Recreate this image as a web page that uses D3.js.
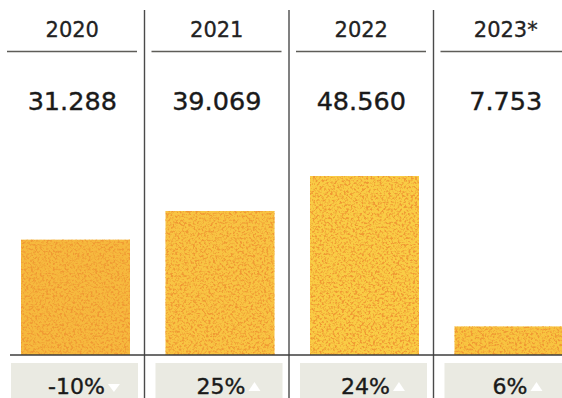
<!DOCTYPE html>
<html><head><meta charset="utf-8">
<script src="https://cdn.jsdelivr.net/npm/d3@7"></script>
<style>html,body{margin:0;padding:0;background:#fff;overflow:hidden}svg{display:block}</style>
</head><body>
<script>
const years = ["2020", "2021", "2022", "2023*"];
const values = [31288, 39069, 48560, 7753];
const valueLabels = ["31.288", "39.069", "48.560", "7.753"];
const changes = ["-10%", "25%", "24%", "6%"];
const directions = ["down", "up", "up", "up"];
const barColors = ["#f6b93e", "#f8c443", "#f9cc45", "#f8c440"];

const W = 562, H = 398;
const svg = d3.select("body").append("svg").attr("width", W).attr("height", H);
const font = "'DejaVu Sans', sans-serif";

const defs = svg.append("defs");
const f = defs.append("filter").attr("id", "grain").attr("x", 0).attr("y", 0).attr("width", 1).attr("height", 1)
  .attr("color-interpolation-filters", "sRGB");
f.append("feTurbulence").attr("type", "fractalNoise").attr("baseFrequency", 0.45).attr("numOctaves", 4).attr("seed", 7).attr("result", "n");
f.append("feColorMatrix").attr("in", "n").attr("type", "matrix")
  .attr("values", "0 0 0 0 0.94  0 0 0 0 0.60  0 0 0 0 0.20  4 0 0 0 -1.85").attr("result", "c");
f.append("feComposite").attr("in", "c").attr("in2", "SourceGraphic").attr("operator", "in").attr("result", "m");
f.append("feMerge").selectAll("feMergeNode").data(["SourceGraphic", "m"]).join("feMergeNode").attr("in", d => d);

const g2 = defs.append("filter").attr("id", "grain2").attr("x", 0).attr("y", 0).attr("width", 1).attr("height", 1)
  .attr("color-interpolation-filters", "sRGB");
g2.append("feTurbulence").attr("type", "fractalNoise").attr("baseFrequency", 1.0).attr("numOctaves", 2).attr("seed", 2).attr("result", "n");
g2.append("feColorMatrix").attr("in", "n").attr("type", "matrix")
  .attr("values", "0 0 0 0 0.86  0 0 0 0 0.85  0 0 0 0 0.79  4 0 0 0 -1.9").attr("result", "c");
g2.append("feComposite").attr("in", "c").attr("in2", "SourceGraphic").attr("operator", "in").attr("result", "m");
g2.append("feMerge").selectAll("feMergeNode").data(["SourceGraphic", "m"]).join("feMergeNode").attr("in", d => d);

const x = d3.scaleBand().domain(years).range([0, 578]).paddingInner(0).paddingOuter(0);
const step = x.step();
const baseY = 355;
const y = d3.scaleLinear().domain([0, 48560]).range([baseY, 176]);

// vertical separators
svg.selectAll("line.sep").data(years.slice(1)).join("line")
  .attr("x1", d => x(d)).attr("x2", d => x(d)).attr("y1", 10).attr("y2", H)
  .attr("stroke", "#4a4a4a").attr("stroke-width", 1.4);

// header underlines
svg.selectAll("line.hdr").data(years).join("line")
  .attr("x1", d => x(d) + 7).attr("x2", d => Math.min(x(d) + 137, W)).attr("y1", 51.5).attr("y2", 51.5)
  .attr("stroke", "#5e5d58").attr("stroke-width", 1.6);

// year labels
svg.selectAll("text.yr").data(years).join("text")
  .attr("x", d => x(d) + step / 2).attr("y", 37).attr("text-anchor", "middle")
  .attr("font-family", font).attr("font-size", 21).attr("fill", "#222")
  .attr("stroke", "#222").attr("stroke-width", 0.3).text(d => d);

// value labels
svg.selectAll("text.val").data(valueLabels).join("text")
  .attr("x", (d, i) => x(years[i]) + step / 2).attr("y", 110).attr("text-anchor", "middle")
  .attr("font-family", font).attr("font-size", 25.5).attr("fill", "#1a1a1a")
  .attr("stroke", "#1a1a1a").attr("stroke-width", 0.4).text(d => d);

// bars
svg.selectAll("rect.bar").data(values).join("rect")
  .attr("x", (d, i) => x(years[i]) + 21).attr("width", 109)
  .attr("y", d => y(d)).attr("height", d => baseY - y(d))
  .attr("fill", (d, i) => barColors[i]).attr("filter", "url(#grain)");

// baseline
svg.append("line").attr("x1", 10).attr("x2", W).attr("y1", baseY).attr("y2", baseY)
  .attr("stroke", "#3c3c3c").attr("stroke-width", 1.4);

// bottom boxes
svg.selectAll("rect.box").data(years).join("rect")
  .attr("x", d => x(d) + 11).attr("width", 127).attr("y", 363).attr("height", 40)
  .attr("fill", "#ecebe5").attr("filter", "url(#grain2)");

// change labels
const g = svg.selectAll("g.chg").data(changes).join("g")
  .attr("transform", (d, i) => `translate(${x(years[i]) + 11 + 127 / 2 + 2},0)`);
g.append("text").attr("x", 0).attr("y", 394).attr("text-anchor", "middle")
  .attr("font-family", font).attr("font-size", 22).attr("fill", "#1a1a1a")
  .attr("stroke", "#1a1a1a").attr("stroke-width", 0.4).text(d => d);
g.each(function (d, i) {
  const t = d3.select(this).select("text").node().getBBox();
  const cx = t.x + t.width + 9, cy = 388;
  const pts = directions[i] === "up"
    ? [[cx - 6, cy + 3], [cx + 6, cy + 3], [cx, cy - 6]]
    : [[cx - 6, cy - 4], [cx + 6, cy - 4], [cx, cy + 4]];
  d3.select(this).append("polygon").attr("points", pts.map(p => p.join(",")).join(" ")).attr("fill", "#fff");
});
</script>
</body></html>
